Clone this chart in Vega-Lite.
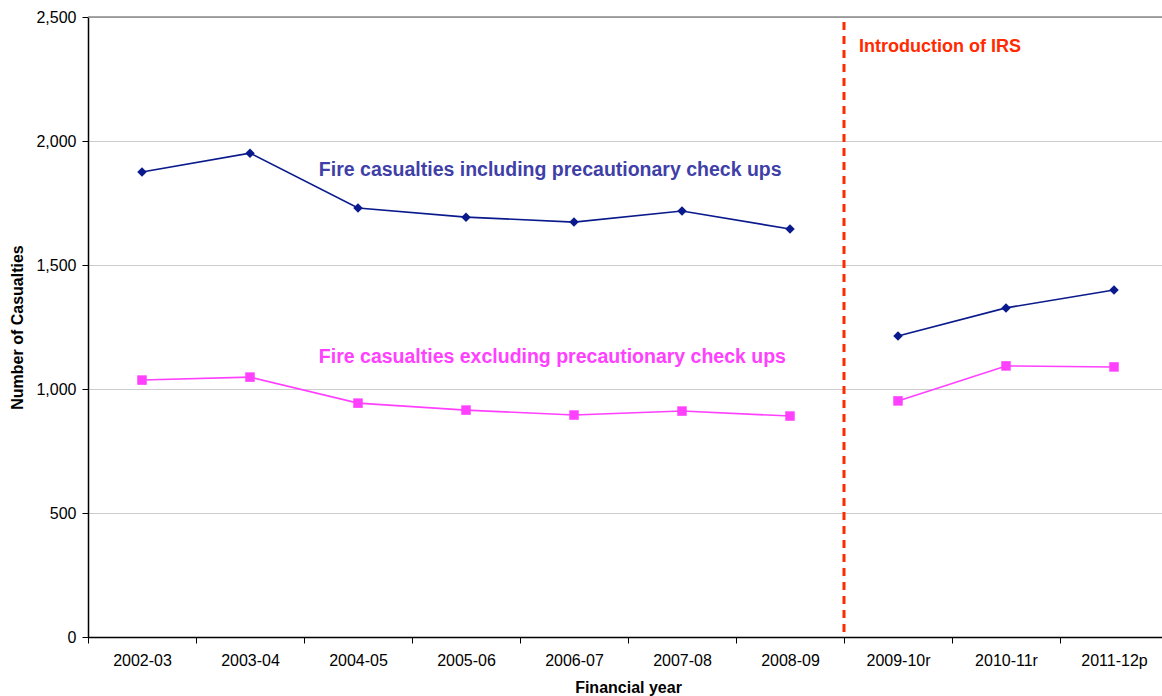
{
  "$schema": "https://vega.github.io/schema/vega-lite/v6.json",
  "autosize": "none",
  "width": 1074,
  "height": 620,
  "padding": {"left": 88, "top": 17, "right": 0, "bottom": 59},
  "background": "white",
  "config": {
    "view": {"stroke": null},
    "font": "Liberation Sans",
    "axis": {"labelFont": "Liberation Sans", "titleFont": "Liberation Sans", "labelColor": "#000", "titleColor": "#000", "domainColor": "#000", "tickColor": "#000"}
  },
  "datasets": {
    "casualties": [
      {"year": "2002-03", "series": "incl", "period": "pre", "value": 1875},
      {"year": "2003-04", "series": "incl", "period": "pre", "value": 1951},
      {"year": "2004-05", "series": "incl", "period": "pre", "value": 1730},
      {"year": "2005-06", "series": "incl", "period": "pre", "value": 1693},
      {"year": "2006-07", "series": "incl", "period": "pre", "value": 1673},
      {"year": "2007-08", "series": "incl", "period": "pre", "value": 1718},
      {"year": "2008-09", "series": "incl", "period": "pre", "value": 1645},
      {"year": "2009-10r", "series": "incl", "period": "post", "value": 1214},
      {"year": "2010-11r", "series": "incl", "period": "post", "value": 1327},
      {"year": "2011-12p", "series": "incl", "period": "post", "value": 1399},
      {"year": "2002-03", "series": "excl", "period": "pre", "value": 1036},
      {"year": "2003-04", "series": "excl", "period": "pre", "value": 1048},
      {"year": "2004-05", "series": "excl", "period": "pre", "value": 943},
      {"year": "2005-06", "series": "excl", "period": "pre", "value": 915},
      {"year": "2006-07", "series": "excl", "period": "pre", "value": 895},
      {"year": "2007-08", "series": "excl", "period": "pre", "value": 911},
      {"year": "2008-09", "series": "excl", "period": "pre", "value": 891},
      {"year": "2009-10r", "series": "excl", "period": "post", "value": 952},
      {"year": "2010-11r", "series": "excl", "period": "post", "value": 1093},
      {"year": "2011-12p", "series": "excl", "period": "post", "value": 1089}
    ],
    "top": [{"year": "2002-03", "value": 2500}],
    "irs": [{"year": "2009-10r", "top": 2480, "bottom": 0, "label": "Introduction of IRS", "labelY": 2380}],
    "lbl1": [{"year": "2006-07", "value": 1885, "label": "Fire casualties including precautionary check ups"}],
    "lbl2": [{"year": "2006-07", "value": 1130, "label": "Fire casualties excluding precautionary check ups"}]
  },
  "layer": [
    {
      "data": {"name": "casualties"},
      "mark": {"type": "line", "strokeWidth": 1.6},
      "encoding": {
        "x": {
          "field": "year", "type": "ordinal", "sort": null, "bandPosition": 0.5,
          "scale": {"type": "band", "range": [0, 1080], "paddingInner": 0, "paddingOuter": 0},
          "axis": {"title": "Financial year", "titleFontSize": 16, "titleFontWeight": "bold", "titlePadding": 11, "labelFontSize": 16, "labelAngle": 0, "labelPadding": 9, "tickBand": "extent", "tickSize": 6, "grid": false, "domainWidth": 1.5}
        },
        "y": {
          "field": "value", "type": "quantitative",
          "scale": {"domain": [0, 2500], "nice": false},
          "axis": {"title": "Number of Casualties", "titleFontSize": 16, "titleFontWeight": "bold", "titlePadding": 10, "labelFontSize": 16, "values": [0, 500, 1000, 1500, 2000, 2500], "format": ",.0f", "tickSize": 6, "labelPadding": 6, "grid": true, "gridColor": "#cccccc", "domainWidth": 1.5}
        },
        "color": {"field": "series", "type": "nominal", "scale": {"domain": ["incl", "excl"], "range": ["#0a1a8c", "#ff40ff"]}, "legend": null},
        "detail": {"field": "period"}
      }
    },
    {
      "data": {"name": "casualties"},
      "mark": {"type": "point", "filled": true, "opacity": 1, "size": 90},
      "encoding": {
        "x": {"field": "year", "type": "ordinal", "sort": null, "bandPosition": 0.5},
        "y": {"field": "value", "type": "quantitative"},
        "color": {"field": "series", "type": "nominal", "legend": null},
        "shape": {"field": "series", "type": "nominal", "scale": {"domain": ["incl", "excl"], "range": ["diamond", "square"]}, "legend": null}
      }
    },
    {
      "data": {"name": "top"},
      "mark": {"type": "rule", "color": "#888888", "strokeWidth": 1.5},
      "encoding": {"y": {"field": "value", "type": "quantitative"}}
    },
    {
      "data": {"name": "irs"},
      "mark": {"type": "rule", "color": "#ff2a00", "strokeWidth": 3, "strokeDash": [8, 6]},
      "encoding": {
        "x": {"field": "year", "type": "ordinal", "bandPosition": 0},
        "y": {"field": "top", "type": "quantitative"},
        "y2": {"field": "bottom"}
      }
    },
    {
      "data": {"name": "irs"},
      "mark": {"type": "text", "color": "#ff2a00", "fontWeight": "bold", "fontSize": 18, "align": "left", "baseline": "middle", "dx": 15},
      "encoding": {
        "x": {"field": "year", "type": "ordinal", "bandPosition": 0},
        "y": {"field": "labelY", "type": "quantitative"},
        "text": {"field": "label"}
      }
    },
    {
      "data": {"name": "lbl1"},
      "mark": {"type": "text", "color": "#3f3fa8", "fontWeight": "bold", "fontSize": 19.5, "align": "center", "baseline": "middle"},
      "encoding": {
        "x": {"field": "year", "type": "ordinal", "bandPosition": 0.28},
        "y": {"field": "value", "type": "quantitative"},
        "text": {"field": "label"}
      }
    },
    {
      "data": {"name": "lbl2"},
      "mark": {"type": "text", "color": "#ff40ff", "fontWeight": "bold", "fontSize": 19.5, "align": "center", "baseline": "middle"},
      "encoding": {
        "x": {"field": "year", "type": "ordinal", "bandPosition": 0.3},
        "y": {"field": "value", "type": "quantitative"},
        "text": {"field": "label"}
      }
    }
  ]
}
